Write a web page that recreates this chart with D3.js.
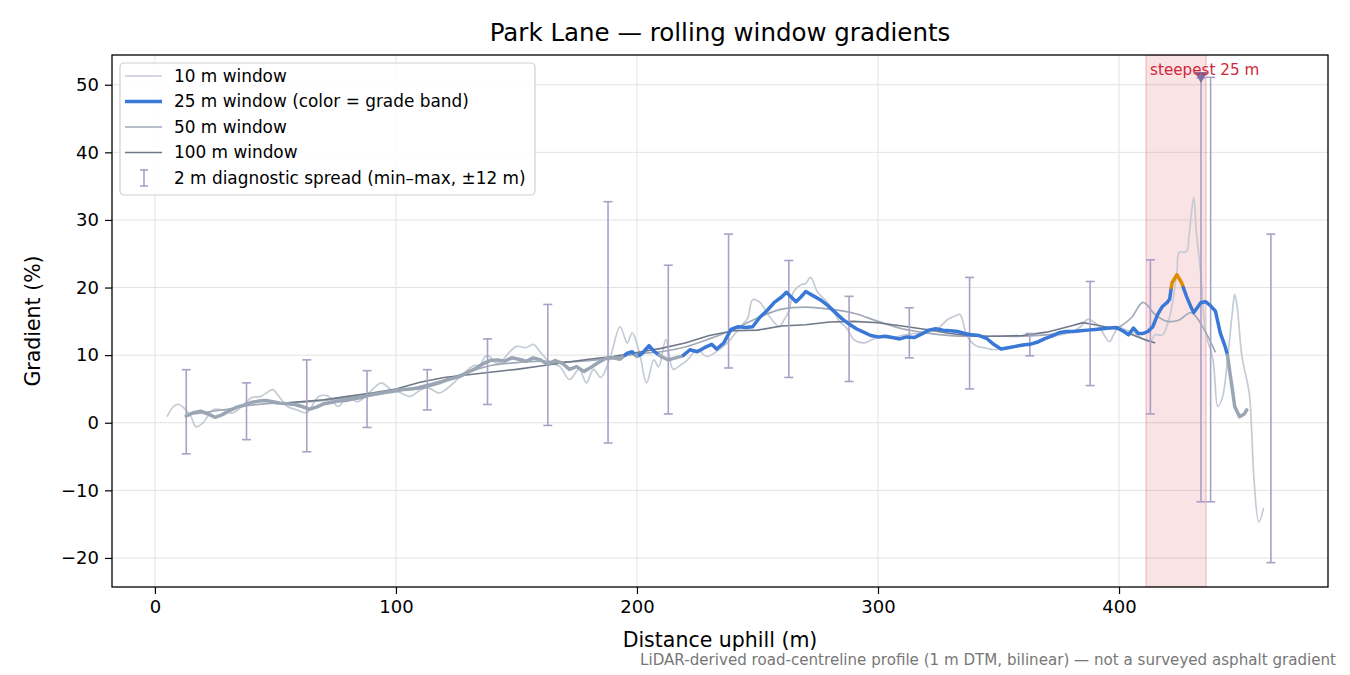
<!DOCTYPE html>
<html>
<head>
<meta charset="utf-8">
<script src="https://cdn.jsdelivr.net/npm/d3@7"></script>
<style>
  body { margin: 0; background: #fff; }
  text { font-family: "DejaVu Sans", sans-serif; }
</style>
</head>
<body>
<svg id="chart" width="1350" height="675"></svg>
<script>
// ---- data ----
const w10Dist = [5,8,10,12,15,17,20,24,28,32,36,40,44,47,49,51,55,59,63,68,72,76,80,84,88,91,94,98,102,106,110,113,118,121,124,129,132,135,137,139,141,143,147,150,154,157,160,164,168,172,176,179,182,185,189,193,196,198,201,204,207,209,212,215,218,221,225,229,234,238,241,244,246,248,251,254,257,259,261,263,265,268,270,272,275,279,282,284,287,290,294,297,301,305,310,315,320,325,329,332,334,337,341,344,348,352,356,360,364,368,373,377,381,384,387,391,393,396,398,400,403,405,409,411,413,415,418,421,424,425,428,429,431,432,434,436,439,441,443,445,447,448,449,451,454,455,456,458,460];
const w10Grade = [0.9,2.5,2.7,2.2,0.9,-0.6,0.0,1.9,1.9,1.4,2.4,3.7,3.9,4.6,4.9,4.1,2.4,1.9,1.5,3.9,3.9,2.4,3.9,3.1,4.1,5.2,5.9,4.9,4.4,3.9,4.8,5.2,4.4,5.0,5.9,7.6,8.4,8.6,9.8,9.8,8.9,8.9,10.4,11.3,11.1,11.6,10.4,8.9,8.3,6.4,7.9,5.9,7.9,6.7,9.8,14.2,11.8,13.3,10.4,5.9,9.3,8.3,12.3,7.9,8.5,9.3,10.8,9.8,10.8,12.0,13.3,14.6,15.5,18.2,17.8,16.2,14.8,14.2,15.2,16.5,19.4,20.4,20.6,21.5,19.3,17.8,16.2,15.0,14.0,12.3,11.8,12.2,12.7,12.5,12.9,13.2,13.3,14.0,15.3,15.8,16.0,12.8,11.3,11.1,10.8,11.0,11.1,11.4,11.8,12.3,12.8,13.1,13.5,14.2,15.3,14.5,13.5,12.0,13.2,14.1,13.7,13.5,12.6,12.2,12.0,13.0,13.0,15.7,22.2,25.2,25.3,27.6,33.3,28.6,21.6,13.3,9.3,2.4,3.9,9.3,16.3,19.0,17.2,9.8,4.4,-1.0,-8.4,-14.7,-12.6];

const w25Dist = [13,16,19,22,25,28,31,34,37,40,43,46,49,52,55,58,61,64,67,70,73,76,79,82,85,88,91,94,97,100,103,106,109,112,115,118,121,124,127,130,133,136,139,142,145,148,151,154,157,160,163,166,169,172,175,178,181,184,187,190,193,196,198,200,202,205,207,210,213,216,219,222,225,228,231,233,236,239,242,245,248,251,254,257,260,262,264,266,268,270,273,276,279,282,285,288,291,294,297,300,303,306,309,312,315,318,321,324,327,330,333,336,339,342,345,348,351,354,357,360,363,366,369,372,375,378,381,384,387,390,393,396,399,402,404,406,408,410,412,414,416,418,420,421,422,424,426,428,430,431,432,434,436,438,440,442,444,445,446,447,448,450,452,453];
const w25Grade = [1.0,1.5,1.7,1.3,0.8,1.2,1.8,2.3,2.6,3.0,3.2,3.3,3.1,2.9,2.8,2.7,2.4,2.0,2.3,2.8,3.0,3.2,3.3,3.5,3.7,4.0,4.2,4.4,4.6,4.8,4.9,5.0,5.1,5.3,5.6,5.9,6.3,6.6,6.9,7.5,8.0,8.7,9.2,9.3,9.1,9.6,9.4,9.1,9.6,9.3,8.6,9.2,8.8,7.9,8.3,7.6,8.2,8.9,9.5,9.6,9.4,10.3,10.5,9.8,10.2,11.4,10.6,9.8,9.3,9.6,9.9,10.8,10.5,11.1,11.6,10.9,11.8,13.8,14.2,14.1,14.2,15.6,16.6,17.8,18.6,19.3,18.6,17.9,18.6,19.4,18.8,18.2,17.4,16.4,15.4,14.6,13.9,13.4,12.9,12.7,12.8,12.6,12.4,12.7,12.6,13.1,13.7,13.9,13.7,13.6,13.5,13.2,13.0,12.9,12.5,11.6,10.9,11.1,11.3,11.5,11.6,11.9,12.4,12.8,13.3,13.5,13.5,13.6,13.7,13.8,13.9,14.0,14.1,13.5,13.0,14.0,13.2,13.2,13.5,14.2,16.0,17.2,17.8,18.3,20.7,21.9,20.7,18.7,17.0,16.3,16.8,17.8,17.9,17.3,16.5,13.3,11.3,10.0,7.4,5.0,2.4,0.9,1.3,1.9];

const w50Dist = [13,20,30,40,50,60,70,80,90,100,110,120,130,140,150,160,170,180,190,200,210,220,230,240,250,260,270,280,290,300,310,320,330,340,350,360,370,380,390,400,405,410,415,420,425,430,435,440];
const w50Grade = [1.2,1.5,2.0,2.6,2.9,3.0,3.3,3.7,4.1,4.6,5.4,6.3,7.5,8.5,8.9,9.1,9.0,9.2,9.6,10.2,10.5,11.2,12.4,13.8,15.5,16.8,17.1,16.8,16.2,15.0,13.9,13.3,12.9,12.8,12.8,12.8,13.0,13.4,13.8,14.2,15.5,17.8,16.0,15.0,15.2,16.3,14.0,10.4];

const w100Dist = [50,60,70,80,90,100,110,120,130,140,150,160,170,180,190,200,210,220,230,240,250,260,270,280,290,300,310,320,330,340,350,360,370,380,385,390,400,410,415];
const w100Grade = [2.8,3.1,3.4,3.9,4.4,5.0,6.0,6.7,7.1,7.5,7.9,8.4,8.9,9.4,9.8,10.4,11.0,11.8,12.9,13.6,13.7,14.3,14.5,14.9,15.0,14.8,14.3,13.8,13.2,12.8,12.8,12.9,13.4,14.3,14.8,14.5,13.8,12.4,11.8];

// 2 m diagnostic spread (min–max within ±12 m)
const spreadDist = [13,38,63,88,113,138,163,188,213,238,263,288,313,338,363,388,413,434,438,463];
const spreadMin = [-4.6,-2.5,-4.3,-0.7,1.9,2.7,-0.4,-3.0,1.3,8.1,6.7,6.1,9.6,5.0,9.9,5.5,1.3,-11.7,-11.7,-20.7];
const spreadMax = [7.85,5.9,9.3,7.7,7.85,12.4,17.5,32.7,23.3,27.9,24.0,18.7,17.0,21.5,13.2,20.9,24.1,51.0,51.1,27.9];

const steepStart = 411.2, steepEnd = 436.1;
const steepPeakDist = 434, steepPeakGrade = 51.2;

const xTicks = [0, 100, 200, 300, 400];
const yTicks = [-20, -10, 0, 10, 20, 30, 40, 50];
const bandLimits = [10, 20];

// ---- layout ----
const svg = d3.select('#chart');
const mLeft = 112, mRight = 1328, mTop = 55, mBottom = 587;

const x = d3.scaleLinear().domain([-17.8, 486.7]).range([mLeft, mRight]);
const y = d3.scaleLinear().domain([-24.3, 54.4]).range([mBottom, mTop]);

const c10 = '#c4cbd4', c50 = '#a0a9b8', c100 = '#6f7888';
const cBlue = '#3a78d8', cOrange = '#e08a00', cGrey = '#9aa6b3';
const cSpread = '#ab9fc6';

// clip
svg.append('clipPath').attr('id', 'plot')
  .append('rect').attr('x', mLeft).attr('y', mTop)
  .attr('width', mRight - mLeft).attr('height', mBottom - mTop);

// grid
const grid = svg.append('g').attr('stroke', '#e3e3e3').attr('stroke-width', 1);
grid.selectAll('.gx').data(xTicks).enter().append('line')
  .attr('x1', d => x(d)).attr('x2', d => x(d)).attr('y1', mTop).attr('y2', mBottom);
grid.selectAll('.gy').data(yTicks).enter().append('line')
  .attr('y1', d => y(d)).attr('y2', d => y(d)).attr('x1', mLeft).attr('x2', mRight);

const plot = svg.append('g').attr('clip-path', 'url(#plot)');

// steepest 25 m window shading
plot.append('rect')
  .attr('x', x(steepStart)).attr('y', mTop)
  .attr('width', x(steepEnd) - x(steepStart)).attr('height', mBottom - mTop)
  .attr('fill', '#d62838').attr('fill-opacity', 0.13)
  .attr('stroke', '#d62838').attr('stroke-opacity', 0.25).attr('stroke-width', 1.2);

const zip = (ds, gs) => ds.map((d, i) => [d, gs[i]]);
const line = d3.line().x(d => x(d[0])).y(d => y(d[1]));
const smooth = d3.line().x(d => x(d[0])).y(d => y(d[1])).curve(d3.curveCatmullRom.alpha(0.5));

plot.append('path').datum(zip(w10Dist, w10Grade))
  .attr('d', smooth).attr('fill', 'none').attr('stroke', c10).attr('stroke-width', 1.7);
plot.append('path').datum(zip(w50Dist, w50Grade))
  .attr('d', smooth).attr('fill', 'none').attr('stroke', c50).attr('stroke-width', 1.7);
plot.append('path').datum(zip(w100Dist, w100Grade))
  .attr('d', line).attr('fill', 'none').attr('stroke', c100).attr('stroke-width', 1.6);

// error bars
const spread = plot.append('g').attr('stroke', cSpread).attr('stroke-width', 1.6);
spreadDist.forEach((d, i) => {
  const g = spread.append('g');
  g.append('line').attr('x1', x(d)).attr('x2', x(d)).attr('y1', y(spreadMin[i])).attr('y2', y(spreadMax[i]));
  g.append('line').attr('x1', x(d) - 4.5).attr('x2', x(d) + 4.5).attr('y1', y(spreadMin[i])).attr('y2', y(spreadMin[i]));
  g.append('line').attr('x1', x(d) - 4.5).attr('x2', x(d) + 4.5).attr('y1', y(spreadMax[i])).attr('y2', y(spreadMax[i]));
});

// 25 m window, coloured by grade band
const bandColor = g => g >= bandLimits[1] ? cOrange : g >= bandLimits[0] ? cBlue : cGrey;
const runs = [];
let cur = null;
for (let i = 0; i < w25Dist.length - 1; i++) {
  const a = [w25Dist[i], w25Grade[i]], b = [w25Dist[i + 1], w25Grade[i + 1]];
  const cuts = [0, 1];
  bandLimits.forEach(t => {
    if ((a[1] - t) * (b[1] - t) < 0) cuts.push((t - a[1]) / (b[1] - a[1]));
  });
  cuts.sort((p, q) => p - q);
  for (let k = 0; k < cuts.length - 1; k++) {
    const p0 = [a[0] + (b[0] - a[0]) * cuts[k], a[1] + (b[1] - a[1]) * cuts[k]];
    const p1 = [a[0] + (b[0] - a[0]) * cuts[k + 1], a[1] + (b[1] - a[1]) * cuts[k + 1]];
    const c = bandColor((p0[1] + p1[1]) / 2);
    if (!cur || cur.color !== c) { cur = { color: c, pts: [p0] }; runs.push(cur); }
    cur.pts.push(p1);
  }
}
plot.selectAll('.run').data(runs).enter().append('path')
  .attr('d', d => line(d.pts)).attr('fill', 'none')
  .attr('stroke', d => d.color).attr('stroke-width', 3.5)
  .attr('stroke-linejoin', 'round').attr('stroke-linecap', 'round');

// steepest marker
plot.append('path')
  .attr('d', d3.symbol().type(d3.symbolTriangle).size(70))
  .attr('transform', `translate(${x(steepPeakDist)},${y(steepPeakGrade) - 1}) rotate(180)`)
  .attr('fill', '#7e6f9e');
svg.append('text').attr('x', x(steepStart) + 4).attr('y', 75)
  .attr('font-size', 15.2).attr('fill', '#d0283a').text('steepest 25 m');

// axes
const xAxis = svg.append('g').attr('transform', `translate(0,${mBottom})`)
  .call(d3.axisBottom(x).tickValues(xTicks).tickSize(7).tickPadding(6).tickFormat(d3.format('d')));
const yAxis = svg.append('g').attr('transform', `translate(${mLeft},0)`)
  .call(d3.axisLeft(y).tickValues(yTicks).tickSize(7).tickPadding(6).tickFormat(d3.format('d')));
[xAxis, yAxis].forEach(a => {
  a.selectAll('text').attr('font-size', 18).attr('fill', '#000').attr('font-family', '"DejaVu Sans", sans-serif');
  a.selectAll('line').attr('stroke', '#000').attr('stroke-width', 1.2);
  a.select('.domain').remove();
});
svg.append('rect').attr('x', mLeft).attr('y', mTop).attr('width', mRight - mLeft).attr('height', mBottom - mTop)
  .attr('fill', 'none').attr('stroke', '#000').attr('stroke-width', 1.3);

// titles
svg.append('text').attr('x', (mLeft + mRight) / 2).attr('y', 41).attr('text-anchor', 'middle')
  .attr('font-size', 24.5).text('Park Lane — rolling window gradients');
svg.append('text').attr('x', (mLeft + mRight) / 2).attr('y', 647).attr('text-anchor', 'middle')
  .attr('font-size', 20.5).text('Distance uphill (m)');
svg.append('text').attr('transform', `translate(40,${(mTop + mBottom) / 2}) rotate(-90)`)
  .attr('text-anchor', 'middle').attr('font-size', 20.5).text('Gradient (%)');
svg.append('text').attr('x', 1336).attr('y', 665).attr('text-anchor', 'end')
  .attr('font-size', 15.1).attr('fill', '#777')
  .text('LiDAR-derived road-centreline profile (1 m DTM, bilinear) — not a surveyed asphalt gradient');

// legend
const legendItems = [
  { label: '10 m window', color: c10, width: 1.7 },
  { label: '25 m window (color = grade band)', color: cBlue, width: 3.5 },
  { label: '50 m window', color: c50, width: 1.7 },
  { label: '100 m window', color: c100, width: 1.6 },
  { label: '2 m diagnostic spread (min–max, ±12 m)', color: cSpread, bar: true }
];
const legend = svg.append('g');
legend.append('rect').attr('x', 120).attr('y', 63).attr('width', 415).attr('height', 132)
  .attr('rx', 4).attr('fill', '#fff').attr('fill-opacity', 0.85)
  .attr('stroke', '#d0d0d0').attr('stroke-width', 1.2);
legendItems.forEach((it, i) => {
  const cy = 76 + i * 25.5;
  if (it.bar) {
    legend.append('line').attr('x1', 144).attr('x2', 144).attr('y1', cy - 8).attr('y2', cy + 8)
      .attr('stroke', it.color).attr('stroke-width', 1.6);
    [cy - 8, cy + 8].forEach(v => legend.append('line').attr('x1', 140).attr('x2', 148)
      .attr('y1', v).attr('y2', v).attr('stroke', it.color).attr('stroke-width', 1.6));
  } else {
    legend.append('line').attr('x1', 125).attr('x2', 162).attr('y1', cy).attr('y2', cy)
      .attr('stroke', it.color).attr('stroke-width', it.width);
  }
  legend.append('text').attr('x', 174).attr('y', cy + 5.5).attr('font-size', 16.9).text(it.label);
});
</script>
</body>
</html>
